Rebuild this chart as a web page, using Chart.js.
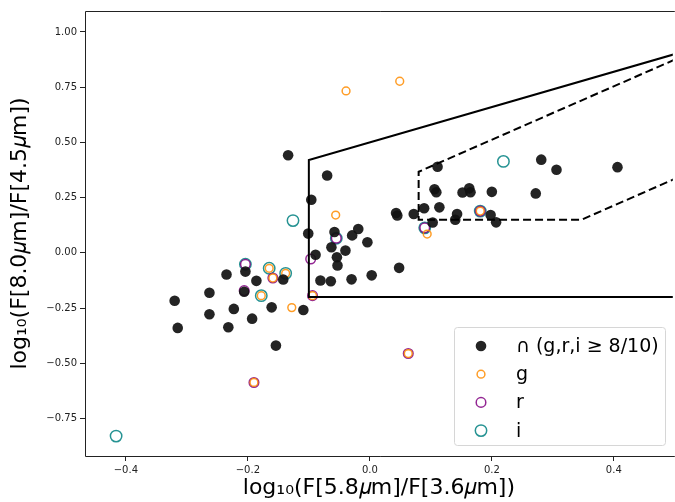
<!DOCTYPE html>
<html>
<head>
<meta charset="utf-8">
<script src="https://cdn.jsdelivr.net/npm/chart.js@4.4.1/dist/chart.umd.min.js"></script>
<style>
  html, body { margin: 0; padding: 0; background: #fff; overflow: hidden; }
</style>
</head>
<body>
<!-- 5px wider than the window: chart.js keeps a 5px gap on the right -->
<canvas id="c" width="680" height="502"></canvas>
<script>
// points passing all three bands
const allX = [-0.320, -0.315, -0.263, -0.263, -0.235, -0.223, -0.232, -0.204, -0.206, -0.186,
  -0.193, -0.161, -0.154, -0.142, -0.109, -0.134, -0.070, -0.096, -0.101, -0.058,
  -0.019, -0.029, -0.004, -0.063, -0.040, -0.089, -0.054, -0.053, -0.081, -0.064,
  -0.030, 0.003, 0.048, 0.111, 0.106, 0.109, 0.152, 0.163, 0.165, 0.200,
  0.043, 0.045, 0.072, 0.089, 0.114, 0.143, 0.140, 0.103, 0.198, 0.207,
  0.272, 0.281, 0.306, 0.406];
const allY = [-0.217, -0.340, -0.181, -0.278, -0.098, -0.254, -0.337, -0.085, -0.176, -0.127,
  -0.298, -0.247, -0.420, -0.121, -0.259, 0.442, 0.350, 0.240, 0.087, 0.094,
  0.108, 0.079, 0.048, 0.025, 0.010, -0.009, -0.020, -0.057, -0.125, -0.129,
  -0.120, -0.102, -0.068, 0.390, 0.288, 0.274, 0.273, 0.292, 0.274, 0.276,
  0.180, 0.169, 0.176, 0.202, 0.206, 0.176, 0.150, 0.137, 0.171, 0.138,
  0.269, 0.422, 0.376, 0.388];

const gX = [-0.165, -0.159, -0.138, -0.178, -0.128, -0.190, -0.094, -0.056, -0.039, 0.049, 0.094, 0.181, 0.063];
const gY = [-0.070, -0.114, -0.093, -0.194, -0.248, -0.587, -0.194, 0.171, 0.733, 0.777, 0.085, 0.189, -0.456];

const rX = [-0.204, -0.159, -0.206, -0.190, -0.094, -0.097, -0.055, 0.090, 0.181, 0.063];
const rY = [-0.052, -0.114, -0.171, -0.587, -0.194, -0.028, 0.066, 0.113, 0.189, -0.456];

const iX = [-0.204, -0.165, -0.138, -0.178, -0.126, -0.055, 0.090, 0.181, 0.219, -0.416];
const iY = [-0.052, -0.070, -0.093, -0.194, 0.146, 0.066, 0.113, 0.189, 0.414, -0.830];

// selection wedges
const lacyX = [0.5, -0.1, -0.1, 0.5];
const lacyY = [0.9, 0.42, -0.2, -0.2];
const donleyX = [0.5, 0.08, 0.08, 0.347, 0.5];
const donleyY = [0.875, 0.367, 0.15, 0.15, 0.335];

const xTicks = [-0.4, -0.2, 0.0, 0.2, 0.4];
const yTicks = [-0.75, -0.5, -0.25, 0.0, 0.25, 0.5, 0.75, 1.0];
const legendLabels = ["∩ (g,r,i ≥ 8/10)", "g", "r", "i"];

const FONT = "'DejaVu Sans', sans-serif";
const colors = {
  all: "rgba(17, 17, 17, 0.92)",
  g: "rgba(255, 140, 0, 0.85)",
  r: "rgba(128, 0, 128, 0.85)",
  i: "rgba(0, 128, 128, 0.85)",
};

const pts = (xs, ys) => xs.map((x, k) => ({ x: x, y: ys[k] }));
const fmt = (v, d) => v.toFixed(d).replace("-", "\u2212");

const ringSet = (label, xs, ys, color, r) => ({
  type: "scatter",
  label: label,
  data: pts(xs, ys),
  pointRadius: r,
  pointHoverRadius: r,
  pointBorderWidth: 1.5,
  borderColor: color,
  backgroundColor: "rgba(0,0,0,0)",
  pointBackgroundColor: "rgba(0,0,0,0)",
});

const lineSet = (xs, ys, dash) => ({
  type: "line",
  data: pts(xs, ys),
  borderColor: "#000",
  borderWidth: 2,
  borderDash: dash,
  pointRadius: 0,
  fill: false,
  tension: 0,
});

// left, top and bottom spines (right one falls off the picture)
const frame = {
  id: "frame",
  afterDraw(chart) {
    const { ctx, chartArea: a } = chart;
    const l = Math.round(a.left) + 0.5, t = Math.round(a.top) + 0.5, b = Math.round(a.bottom) + 0.5;
    ctx.save();
    ctx.strokeStyle = "#222";
    ctx.lineWidth = 1;
    ctx.beginPath();
    ctx.moveTo(a.right + 2, t);
    ctx.lineTo(l, t);
    ctx.lineTo(l, b);
    ctx.lineTo(a.right + 2, b);
    ctx.stroke();
    ctx.restore();
  },
};

// legend box inside the lower right of the axes
const boxLegend = {
  id: "boxLegend",
  afterDraw(chart) {
    const ctx = chart.ctx;
    const x0 = 454.5, y0 = 327.5, w = 211, h = 118;
    ctx.save();
    ctx.beginPath();
    ctx.roundRect(x0, y0, w, h, 3);
    ctx.fillStyle = "rgba(255,255,255,0.8)";
    ctx.fill();
    ctx.strokeStyle = "#d6d6d6";
    ctx.lineWidth = 1;
    ctx.stroke();
    const sets = chart.data.datasets.filter((d) => d.label);
    ctx.font = "19px " + FONT;
    ctx.textBaseline = "middle";
    sets.forEach((d, k) => {
      const cy = 346 + k * 28.2;
      ctx.beginPath();
      ctx.arc(481, cy, d.pointRadius, 0, Math.PI * 2);
      if (d.pointBorderWidth === 0) {
        ctx.fillStyle = d.backgroundColor;
        ctx.fill();
      } else {
        ctx.lineWidth = d.pointBorderWidth;
        ctx.strokeStyle = d.borderColor;
        ctx.stroke();
      }
      ctx.fillStyle = "#000";
      ctx.fillText(legendLabels[k], 516, cy + 1);
    });
    ctx.restore();
  },
};

new Chart(document.getElementById("c"), {
  data: {
    datasets: [
      lineSet(lacyX, lacyY, []),
      lineSet(donleyX, donleyY, [8, 4]),
      {
        type: "scatter",
        label: "all",
        data: pts(allX, allY),
        pointRadius: 5.3,
        pointHoverRadius: 5.3,
        pointBorderWidth: 0,
        backgroundColor: colors.all,
        pointBackgroundColor: colors.all,
        borderColor: colors.all,
      },
      ringSet("g", gX, gY, colors.g, 3.9),
      ringSet("r", rX, rY, colors.r, 4.8),
      ringSet("i", iX, iY, colors.i, 5.7),
    ],
  },
  options: {
    responsive: false,
    animation: false,
    events: [],
    layout: { padding: { top: 11, right: 0, left: 0, bottom: 0 } },
    plugins: { legend: { display: false }, tooltip: { enabled: false } },
    scales: {
      x: {
        type: "linear",
        min: -0.467,
        max: 0.4967,
        afterBuildTicks: (s) => { s.ticks = xTicks.map((v) => ({ value: v })); },
        afterFit: (s) => { s.height = 46; s.paddingLeft = 0; s.paddingRight = 0; },
        ticks: {
          callback: (v) => fmt(v, 1),
          font: { family: FONT, size: 10 },
          color: "#222",
          padding: 3,
          maxRotation: 0,
          autoSkip: false,
        },
        grid: { drawOnChartArea: false, tickLength: 5, color: "#222" },
        border: { display: false },
        title: {
          display: true,
          text: "log₁₀(F[5.8𝜇m]/F[3.6𝜇m])",
          font: { family: FONT, size: 22 },
          color: "#000",
          padding: { top: 0, bottom: 1 },
        },
      },
      y: {
        type: "linear",
        min: -0.92,
        max: 1.095,
        afterBuildTicks: (s) => { s.ticks = yTicks.map((v) => ({ value: v })); },
        afterFit: (s) => { s.width = 85; s.paddingTop = 0; s.paddingBottom = 0; },
        ticks: {
          callback: (v) => fmt(v, 2),
          font: { family: FONT, size: 10 },
          color: "#222",
          padding: 3,
          autoSkip: false,
        },
        grid: { drawOnChartArea: false, tickLength: 5, color: "#222" },
        border: { display: false },
        title: {
          display: true,
          text: "log₁₀(F[8.0𝜇m]/F[4.5𝜇m])",
          font: { family: FONT, size: 22 },
          color: "#000",
          padding: { top: 7, bottom: 0 },
        },
      },
    },
  },
  plugins: [frame, boxLegend],
});
</script>
</body>
</html>
